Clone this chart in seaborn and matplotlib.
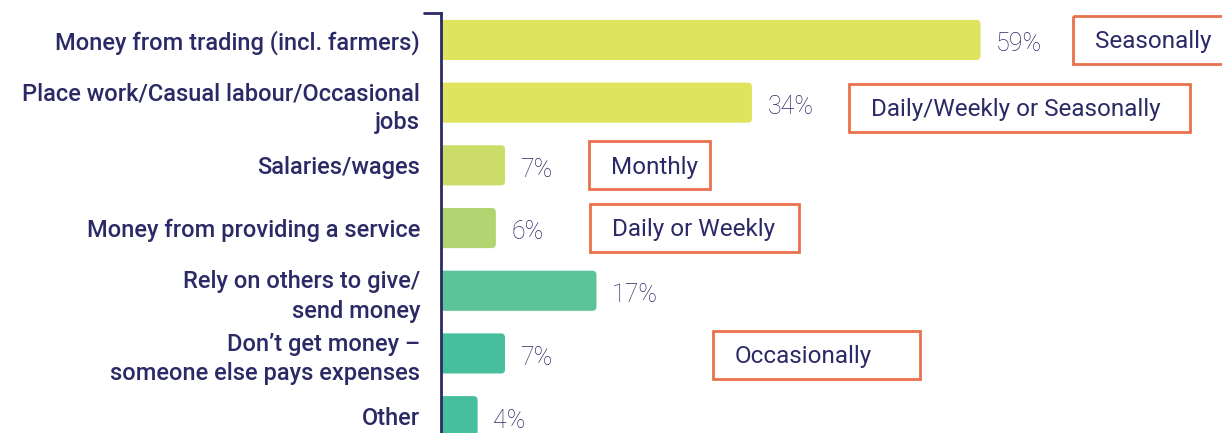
import matplotlib
matplotlib.use("Agg")
import matplotlib.pyplot as plt
import pandas as pd
import seaborn as sns
from matplotlib.patches import Rectangle, FancyBboxPatch
from matplotlib.lines import Line2D

# Data
categories = [
    "Money from trading (incl. farmers)",
    "Place work/Casual labour/Occasional\njobs",
    "Salaries/wages",
    "Money from providing a service",
    "Rely on others to give/\nsend money",
    "Don\u2019t get money \u2013\nsomeone else pays expenses",
    "Other",
]
shares = [59, 34, 7, 6, 17, 7, 4]
bar_colors = ["#dfe45f", "#dfe45f", "#cbdc68", "#b2d572", "#5bc397", "#45bf9d", "#45bf9d"]

# Frequency call-outs: text, row, box left / right (in % units)
freq_labels = ["Seasonally", "Daily/Weekly or Seasonally", "Monthly", "Daily or Weekly", "Occasionally"]
freq_rows = [0, 1.08, 2, 3, 5.02]
freq_x0 = [69.1, 44.6, 16.2, 16.3, 29.7]
freq_x1 = [90.0, 81.9, 29.4, 39.2, 52.4]

navy = "#2b2a66"
box_edge = "#e8714b"

sns.set_theme(style="white")
plt.rcParams["font.family"] = ["Roboto", "DejaVu Sans"]

df = pd.DataFrame({"category": categories, "share": shares})

fig = plt.figure(figsize=(12.22, 4.33), dpi=100)
ax = fig.add_axes([441 / 1222, -17 / 433, 781 / 1222, 437 / 433])

sns.barplot(
    data=df, y="category", x="share", hue="category",
    palette=bar_colors, dodge=False, legend=False, width=0.64,
    saturation=1, ax=ax,
)

ax.set_xlim(0, 85.4)
ax.set_ylim(6.54, -0.43)

# swap the plain bars for ones with slightly rounded ends
for p in list(ax.patches):
    x, y, w, h = p.get_x(), p.get_y(), p.get_width(), p.get_height()
    fc = p.get_facecolor()
    p.remove()
    ax.add_patch(FancyBboxPatch((x - 0.6, y), w + 0.6, h,
                                boxstyle="round,pad=0,rounding_size=0.45",
                                mutation_aspect=0.146, facecolor=fc,
                                edgecolor="none", zorder=2))

ax.set_xlabel("")
ax.set_ylabel("")
ax.set_xticks([])
for s in ["top", "right", "bottom"]:
    ax.spines[s].set_visible(False)
ax.spines["left"].set_color(navy)
ax.spines["left"].set_linewidth(2)
ax.spines["left"].set_zorder(3)
ax.tick_params(axis="y", length=0, pad=15)
for lab in ax.get_yticklabels():
    lab.set_fontsize(17)
    lab.set_color(navy)
    lab.set_fontweight("medium")
    lab.set_multialignment("right")
    lab.set_linespacing(1.35)

# small cap at the top of the axis line
ax.add_line(Line2D([-17 / 781, 0], [1, 1], transform=ax.transAxes,
                   color=navy, lw=2, clip_on=False))

# value labels
for i, v in enumerate(shares):
    ax.text(v + 1.7, i + 0.07, f"{v}%", va="center", ha="left",
            fontsize=18, color=navy, fontweight="light")

# frequency boxes
for text, row, x0, x1 in zip(freq_labels, freq_rows, freq_x0, freq_x1):
    ax.add_patch(Rectangle((x0, row - 0.385), x1 - x0, 0.77, fill=False,
                           edgecolor=box_edge, lw=2, clip_on=False))
    ax.text(x0 + 2.4, row + 0.03, text, va="center", ha="left",
            fontsize=17.5, color=navy, fontweight="normal")

fig.savefig("out.png", dpi=100)
